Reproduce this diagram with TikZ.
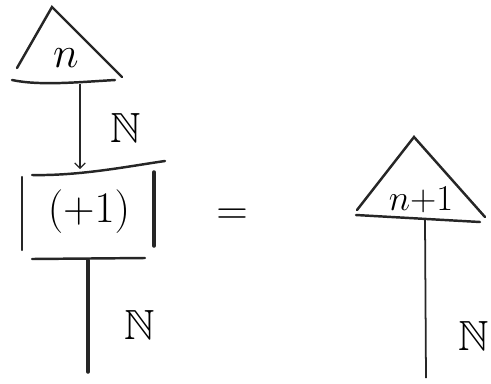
\documentclass[tikz,border=0pt]{standalone}
\usepackage{amssymb}
\usetikzlibrary{arrows.meta}
\begin{document}
\begin{tikzpicture}[x=0.02cm,y=-0.02cm,
  thin wire/.style={black!85,line width=0.7pt},
  thick wire/.style={black!85,line width=1.4pt,line cap=round},
  lbl/.style={inner sep=0pt,font=\fontsize{24}{28}\selectfont}]
  \useasboundingbox (0,0) rectangle (491,383);
  % left triangle (state n)
  \draw[thick wire] (17,68) -- (52,7) -- (122,77);
  \draw[thick wire] (12,80) .. controls (40,86) and (80,82) .. (115,80);
  \node[lbl,font=\fontsize{28}{32}\selectfont] (n) at (66,58) {$n$};
  \coordinate (nout) at (80,84);
  % box (+1)
  \draw[thick wire] (32,175) .. controls (80,176) and (130,166) .. (165,161);
  \draw[thick wire] (32,259) -- (145,258);
  \draw[thick wire] (22,177) -- (22,250);
  \draw[thick wire,line width=2pt] (154,172) -- (154,246);
  \node[lbl,font=\fontsize{30}{34}\selectfont] (succ) at (89,212) {$(+1)$};
  \coordinate (sin) at (80,169);
  \coordinate (sout) at (88,260);
  \coordinate (send) at (88,372);
  % wires
  \draw[thin wire,-{Straight Barb[length=3pt]}] (nout) -- (sin);
  \node[lbl] at (126,128) {$\mathbb{N}$};
  \draw[thick wire,line width=2pt] (sout) -- (send);
  \node[lbl] at (140,325) {$\mathbb{N}$};
  % equals
  \node[lbl,font=\fontsize{34}{38}\selectfont] (eq) at (232,217) {$=$};
  % right triangle (state n+1)
  \draw[thick wire] (357,210) -- (414,137) -- (485,217);
  \draw[thick wire] (356,215) -- (480,222);
  \node[lbl,font=\fontsize{20}{24}\selectfont] (np) at (421,200) {$n{+}1$};
  \coordinate (pout) at (425,220);
  \coordinate (pend) at (426,378);
  \draw[thin wire,line width=1pt] (pout) -- (pend);
  \node[lbl] at (474,336) {$\mathbb{N}$};
\end{tikzpicture}
\end{document}
